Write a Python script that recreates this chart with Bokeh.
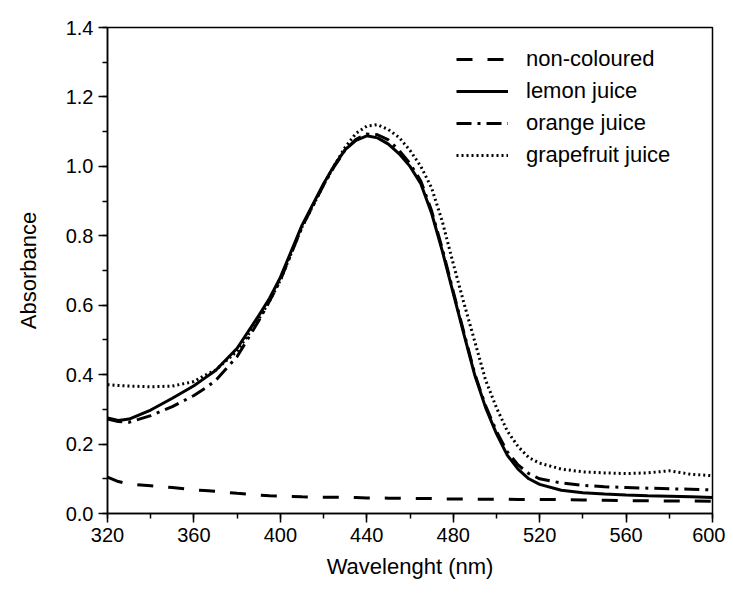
from bokeh.plotting import figure
from bokeh.models import Range1d, FixedTicker, PrintfTickFormatter, Legend, LegendItem
from bokeh.embed import file_html
from bokeh.resources import INLINE

wavelength = [320, 325, 330, 340, 350, 360, 365, 370, 380, 390, 395, 400, 410, 420, 425, 430, 435,
              440, 445, 450, 455, 460, 465, 470, 475, 480, 485, 490, 495, 500, 505, 510, 515,
              520, 530, 540, 550, 560, 570, 580, 590, 600]

non_coloured = [0.105, 0.092, 0.085, 0.080, 0.075, 0.068, 0.066, 0.064, 0.058, 0.053, 0.051, 0.050,
                0.048, 0.047, 0.047, 0.046, 0.046, 0.045, 0.045, 0.044, 0.044, 0.043, 0.043, 0.043,
                0.042, 0.042, 0.042, 0.041, 0.041, 0.041, 0.041, 0.040, 0.040, 0.040, 0.040, 0.039,
                0.038, 0.037, 0.037, 0.036, 0.036, 0.035]

lemon = [0.275, 0.268, 0.272, 0.298, 0.332, 0.368, 0.390, 0.412, 0.476, 0.570, 0.620, 0.680,
         0.830, 0.950, 1.003, 1.048, 1.075, 1.088, 1.082, 1.064, 1.036, 1.000, 0.950, 0.865,
         0.755, 0.635, 0.515, 0.398, 0.305, 0.230, 0.168, 0.128, 0.100, 0.084, 0.067, 0.060,
         0.056, 0.053, 0.051, 0.050, 0.048, 0.046]

orange = [0.272, 0.265, 0.263, 0.282, 0.308, 0.340, 0.360, 0.383, 0.452, 0.555, 0.612, 0.672,
          0.825, 0.946, 1.000, 1.047, 1.078, 1.093, 1.091, 1.076, 1.046, 1.008, 0.958, 0.872,
          0.762, 0.640, 0.520, 0.402, 0.310, 0.237, 0.178, 0.140, 0.115, 0.100, 0.088, 0.081,
          0.077, 0.075, 0.073, 0.071, 0.070, 0.068]

grapefruit = [0.371, 0.369, 0.367, 0.365, 0.367, 0.380, 0.398, 0.413, 0.468, 0.560, 0.612, 0.672,
              0.825, 0.946, 1.003, 1.055, 1.095, 1.116, 1.120, 1.106, 1.083, 1.046, 1.000, 0.938,
              0.840, 0.720, 0.605, 0.495, 0.384, 0.305, 0.238, 0.193, 0.161, 0.145, 0.128, 0.120,
              0.117, 0.115, 0.117, 0.123, 0.113, 0.109]

series_names = ["non-coloured", "lemon juice", "orange juice", "grapefruit juice"]
x_ticks = [320, 360, 400, 440, 480, 520, 560, 600]
y_ticks = [0.0, 0.2, 0.4, 0.6, 0.8, 1.0, 1.2, 1.4]

FONT = "Liberation Sans"

p = figure(width=725, height=585, output_backend="svg", toolbar_location=None,
           x_range=Range1d(320, 600), y_range=Range1d(0, 1.4),
           min_border_left=107, min_border_right=13, min_border_top=27, min_border_bottom=72)

p.xgrid.visible = False
p.ygrid.visible = False
p.outline_line_color = "black"
p.outline_line_width = 1.5
p.background_fill_color = "white"
p.border_fill_color = "white"

for ax in (p.xaxis[0], p.yaxis[0]):
    ax.axis_line_width = 1.5
    ax.axis_line_color = "black"
    ax.major_tick_line_width = 1.5
    ax.minor_tick_line_width = 1.5
    ax.major_tick_out = 9
    ax.major_tick_in = 0
    ax.minor_tick_out = 5
    ax.minor_tick_in = 0
    ax.major_label_text_font = FONT
    ax.major_label_text_font_size = "20px"
    ax.major_label_text_color = "black"
    ax.axis_label_text_font = FONT
    ax.axis_label_text_font_size = "22px"
    ax.axis_label_text_font_style = "normal"
    ax.axis_label_text_color = "black"
    ax.major_label_standoff = 5

p.xaxis.ticker = FixedTicker(ticks=x_ticks, minor_ticks=list(range(320, 601, 20)))
p.yaxis.ticker = FixedTicker(ticks=y_ticks, minor_ticks=[i / 10 for i in range(0, 15)])
p.yaxis.formatter = PrintfTickFormatter(format="%.1f")
p.xaxis.axis_label = "Wavelenght (nm)"
p.yaxis.axis_label = "Absorbance"
p.xaxis.axis_label_standoff = 9
p.yaxis.axis_label_standoff = 22

r1 = p.line(wavelength, non_coloured, line_color="black", line_width=3, line_dash="16 15")
r2 = p.line(wavelength, lemon, line_color="black", line_width=3)
r3 = p.line(wavelength, orange, line_color="black", line_width=3, line_dash="15 6 3 6")
r4 = p.line(wavelength, grapefruit, line_color="black", line_width=3, line_dash="2 3")

legend = Legend(items=[LegendItem(label=series_names[0], renderers=[r1]),
                       LegendItem(label=series_names[1], renderers=[r2]),
                       LegendItem(label=series_names[2], renderers=[r3]),
                       LegendItem(label=series_names[3], renderers=[r4])],
                location=(349, 345), padding=0, margin=0, spacing=6,
                glyph_width=52, glyph_height=24, label_height=24, label_standoff=18,
                label_text_font=FONT, label_text_font_size="22px", label_text_color="black",
                border_line_color=None, background_fill_alpha=0)
p.add_layout(legend)

open("out.html", "w").write(file_html(p, INLINE))
